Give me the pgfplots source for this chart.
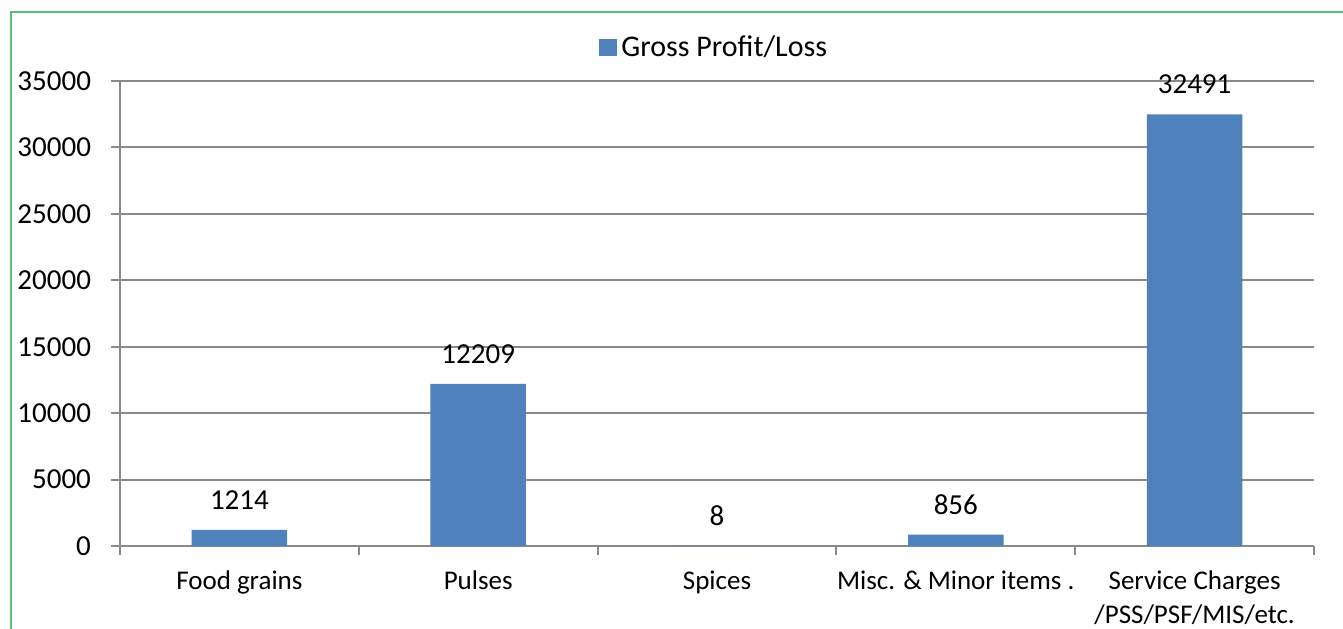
\documentclass[border=0pt]{standalone}
\usepackage{pgfplots}
\pgfplotsset{compat=1.18}
\usepackage{fontspec}
\setmainfont{Carlito}
\definecolor{barblue}{HTML}{4F81BD}
\definecolor{gridgray}{HTML}{898989}
\definecolor{framegreen}{HTML}{52C27E}
\begin{document}
\begin{tikzpicture}[x=1pt,y=1pt]
\useasboundingbox (0,0) rectangle (671.5,314);
\clip (0,0) rectangle (671.5,314);
\draw[framegreen, line width=0.7pt] (5.5,-5) -- (5.5,308) -- (680,308);
\begin{axis}[
  at={(60pt,41pt)}, anchor=south west,
  width=597pt, height=232.5pt, scale only axis,
  xmin=-0.5, xmax=4.5, ymin=0, ymax=35000,
  axis x line*=bottom, axis y line*=left,
  axis line style={gridgray, line width=1pt, -},
  xtick={-0.5,0.5,1.5,2.5,3.5,4.5},
  x tick label as interval,
  xticklabels={Food grains,Pulses,Spices,Misc. \& Minor items .,{Service Charges\\/PSS/PSF/MIS/etc.}},
  xticklabel style={font=\fontsize{13.5}{17}\selectfont, align=center, yshift=-4.5pt},
  ytick={0,5000,...,35000},
  yticklabel style={font=\fontsize{14.5}{17}\selectfont, xshift=-6.5pt},
  scaled y ticks=false,
  /pgf/number format/1000 sep={},
  /pgf/number format/assume math mode=true,
  tick align=outside,
  major tick length=4.5pt,
  tick style={gridgray, line width=1pt},
  ymajorgrids,
  grid style={gridgray, line width=1pt},
  ybar, bar width=0.4,
  nodes near coords,
  every node near coord/.append style={font=\fontsize{14.5}{17}\selectfont, anchor=center, yshift=15pt, text=black},
  legend style={at={(axis description cs:0.4985,1.071)}, anchor=center, draw=none, fill=none,
    font=\fontsize{15}{18}\selectfont, legend cell align=left},
  legend image code/.code={\fill[barblue] (-0.5pt,-4.25pt) rectangle (8.5pt,4.25pt);},
]
\addplot[fill=barblue, draw=none] coordinates {(0,1214) (1,12209) (2,8) (3,856) (4,32491)};
\addlegendentry{Gross Profit/Loss}
\end{axis}
\end{tikzpicture}
\end{document}
